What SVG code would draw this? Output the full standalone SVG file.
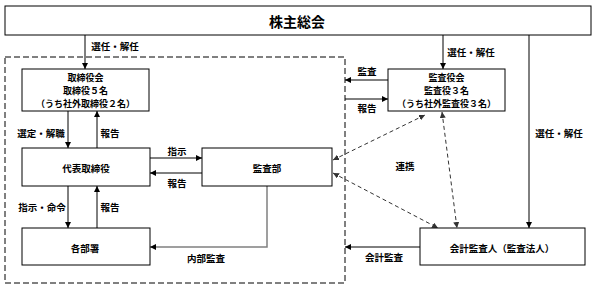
<svg xmlns="http://www.w3.org/2000/svg" width="592" height="290" viewBox="0 0 592 290">
<style>
.box{fill:#fff;stroke:#000;stroke-width:1}
.t{font-family:"Noto Sans CJK JP","Noto Sans",sans-serif;font-weight:bold;font-size:9.5px;fill:#000;text-anchor:middle;dominant-baseline:central}
.s{font-size:9px}
.big{font-size:14px}
.ln{stroke:#000;stroke-width:1;fill:none}
.gray{stroke:#808080;stroke-width:1.5;fill:none}
.dash{stroke:#333;stroke-width:1;fill:none;stroke-dasharray:4 3}
</style>
<defs>
<marker id="ah" viewBox="0 0 10 10" refX="10" refY="5" markerWidth="6" markerHeight="6" orient="auto-start-reverse" markerUnits="userSpaceOnUse"><path d="M0,0 L10,5 L0,10 Z" fill="#000"/></marker>
<marker id="ahg" viewBox="0 0 10 10" refX="10" refY="5" markerWidth="6" markerHeight="6" orient="auto-start-reverse" markerUnits="userSpaceOnUse"><path d="M0,0 L10,5 L0,10 Z" fill="#333"/></marker>
</defs>
<rect x="5" y="57" width="340" height="226" fill="none" stroke="#000" stroke-width="1" stroke-dasharray="6 3"/>
<g id="connectors">
<line class="ln" x1="85" y1="35" x2="85" y2="69" marker-end="url(#ah)"/>
<line class="ln" x1="443" y1="35" x2="443" y2="69" marker-end="url(#ah)"/>
<line class="ln" x1="529" y1="35" x2="529" y2="228" marker-end="url(#ah)"/>
<line class="ln" x1="68" y1="111" x2="68" y2="148" marker-end="url(#ah)"/>
<line class="ln" x1="97" y1="148" x2="97" y2="111" marker-end="url(#ah)"/>
<line class="ln" x1="68" y1="186" x2="68" y2="228" marker-end="url(#ah)"/>
<line class="ln" x1="97" y1="228" x2="97" y2="186" marker-end="url(#ah)"/>
<line class="ln" x1="150" y1="158" x2="202" y2="158" marker-end="url(#ah)"/>
<line class="ln" x1="202" y1="173" x2="150" y2="173" marker-end="url(#ah)"/>
<polyline class="gray" points="267,186 267,247 150,247" marker-end="url(#ah)"/>
<line class="ln" x1="388" y1="80" x2="345" y2="80" marker-end="url(#ah)"/>
<line class="ln" x1="345" y1="99" x2="388" y2="99" marker-end="url(#ah)"/>
<line class="ln" x1="420" y1="247" x2="345" y2="247" stroke="#444" marker-end="url(#ah)"/>
<line class="dash" x1="333" y1="160" x2="425" y2="115" marker-start="url(#ahg)" marker-end="url(#ahg)"/>
<line class="dash" x1="333" y1="173" x2="438" y2="228" marker-start="url(#ahg)" marker-end="url(#ahg)"/>
<line class="dash" x1="442" y1="112" x2="457" y2="228" marker-start="url(#ahg)" marker-end="url(#ahg)"/>
</g>
<g id="labels">
<text class="t" x="115" y="46">選任・解任</text>
<text class="t" x="471" y="52">選任・解任</text>
<text class="t" x="559" y="133">選任・解任</text>
<text class="t" x="41" y="133">選定・解職</text>
<text class="t" x="110" y="133">報告</text>
<text class="t" x="42" y="207">指示・命令</text>
<text class="t" x="110" y="207">報告</text>
<text class="t" x="177" y="151">指示</text>
<text class="t" x="177" y="183">報告</text>
<text class="t" x="206" y="258">内部監査</text>
<text class="t" x="367" y="71">監査</text>
<text class="t" x="367" y="108">報告</text>
<text class="t" x="405" y="166">連携</text>
<text class="t" x="384" y="257">会計監査</text>
</g>
<g id="shareholders"><rect class="box" x="5" y="6" width="586" height="29"/><text class="t big" x="297" y="20.5">株主総会</text></g>
<g id="board"><rect class="box" x="22" y="69" width="127" height="42"/><text class="t s" x="85.5" y="77">取締役会</text><text class="t s" x="85.5" y="90">取締役５名</text><text class="t s" x="85.5" y="103">（うち社外取締役２名）</text></g>
<g id="ceo"><rect class="box" x="22" y="148" width="128" height="38"/><text class="t" x="86" y="168">代表取締役</text></g>
<g id="audit-dept"><rect class="box" x="202" y="148" width="130" height="38"/><text class="t" x="267" y="168">監査部</text></g>
<g id="departments"><rect class="box" x="22" y="228" width="128" height="37"/><text class="t" x="85" y="248">各部署</text></g>
<g id="auditors"><rect class="box" x="388" y="69" width="117" height="42"/><text class="t s" x="446.5" y="77">監査役会</text><text class="t s" x="446.5" y="90">監査役３名</text><text class="t s" x="446.5" y="103">（うち社外監査役３名）</text></g>
<g id="accounting-auditor"><rect class="box" x="420" y="228" width="165" height="37"/><text class="t" x="502" y="248">会計監査人（監査法人）</text></g>
</svg>
